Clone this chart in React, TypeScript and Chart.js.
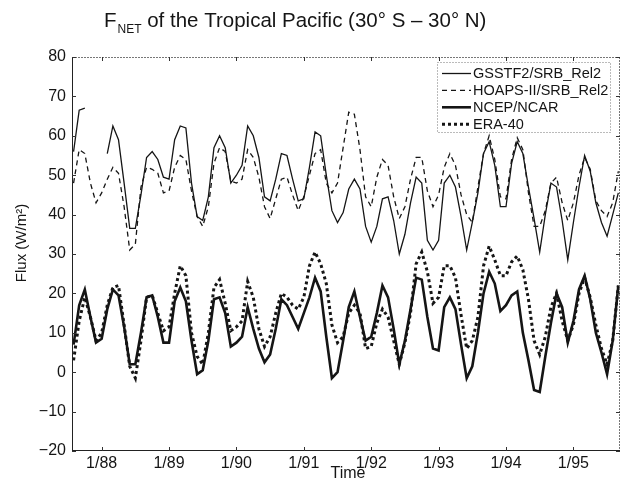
import { useEffect, useRef } from 'react';
import { Chart, registerables } from 'chart.js';

Chart.register(...registerables);

// Monthly series, starting August 1987 (month index 0)
const START_YEAR = 1987;
const START_MONTH = 8;

const gsstf2: (number | null)[] = [
  56, 66.5, 67, null, null, null, 55.5, 62.5, 59, 48,
  36.5, 36.5, 45, 54.5, 56, 54, 49.5, 49, 59, 62.5,
  62, 48, 39.5, 38.5, 44.5, 57, 60, 57, 48, 50,
  52.5, 62.5, 60, 54.5, 44.5, 43.5, 49, 55.5, 55, 49,
  43.5, 44, 52, 61, 60, 50, 41, 38, 40.5, 46.5,
  49, 46.5, 37, 33, 37, 44, 44.5, 38.5, 30, 35,
  43, 49.5, 48, 33.5, 31, 33.5, 48, 50, 47, 39.5,
  31, 38, 45.5, 55.5, 58.5, 52.5, 42, 42, 53, 58.5,
  55.5, 47, 39, 30.5, 40, 48, 47, 38.5, 28.5, 38,
  47, 55, 51, 43, 38, 34.5, 40, 45.5,
];

const hoaps: number[] = [
  48, 56.5, 55.5, 48, 43, 45.5, 49, 52, 50.5, 42,
  31, 32.5, 47, 52, 51.5, 50.5, 45.5, 46, 52, 55,
  54, 46, 39.5, 37, 42, 53, 57, 56, 48.5, 48,
  49, 56.5, 54.5, 49.5, 42, 39, 44, 49, 49.5, 45,
  41, 44.5, 50, 55.5, 56.5, 48, 45.5, 48, 57, 66,
  65.5, 56.5, 44.5, 42, 49.5, 54, 52.5, 44.5, 39, 42,
  49, 54.5, 54.5, 46, 42, 45, 52, 55.5, 52.5, 45,
  40, 38, 47, 55.5, 60, 54, 44.5, 44, 54, 59.5,
  56.5, 45.5, 37, 37, 41, 48, 49.5, 43, 38.5, 43,
  50, 54.5, 51.5, 43.5, 41, 39.5, 43, 51,
];

const ncep: number[] = [
  7, 17, 21, 14, 7.5, 8.5, 16, 21, 19.5, 11.5,
  2, 2, 10, 19, 19.5, 14, 7.5, 7.5, 18, 21.5,
  18, 8, -0.5, 0.5, 8, 18.5, 19, 15, 6.5, 7.5,
  9, 16.5, 11, 6, 2.5, 4.5, 11, 18.5, 17, 14,
  11, 15, 19, 24, 20.5, 9, -1.5, 0, 8, 16.5,
  20.5, 14, 8, 9, 15, 22, 19, 11, 2, 8,
  16, 24, 23.5, 14, 6, 5.5, 16.5, 19, 16, 7,
  -1.5, 1.5, 10, 20, 25.5, 22.5, 15.5, 17, 19.5, 20.5,
  10, 3, -4.5, -5, 4, 12.5, 20, 16.5, 7.5, 13,
  21, 24.5, 18.5, 10, 5, -0.5, 8, 22,
];

const era40: number[] = [
  3, 13, 19, 14, 8, 10, 17, 21.5, 22, 12,
  1.5, -1.5, 8, 19, 19.5, 15, 10.5, 11.5, 20, 27,
  24.5, 10, 4, 2, 10, 21.5, 23.5, 17.5, 10.5, 11.5,
  13, 23, 19, 11, 6.5, 9, 15, 20, 19, 17,
  16, 19, 27, 30.5, 27.5, 22.5, 12, 7.5, 9, 15,
  17, 15, 6, 6.5, 12.5, 16, 14, 8, 2, 7.5,
  15, 27.5, 30.5, 25.5, 17.5, 19, 27, 27, 24, 14.5,
  6, 8, 14, 27, 32, 28.5, 24.5, 24.5, 28, 29.5,
  26, 18.5, 8, 4.5, 9, 16.5, 20, 13, 8, 12,
  20, 24, 19, 12, 6, 2, 8, 22,
];

const tickYears = [1988, 1989, 1990, 1991, 1992, 1993, 1994, 1995];
const tickLabels = tickYears.map((y) => `1/${String(y).slice(2)}`);
const tickMonths = tickYears.map((y) => (y - START_YEAR) * 12 + 1 - START_MONTH);

const yTicks = [-20, -10, 0, 10, 20, 30, 40, 50, 60, 70, 80];

const seriesNames = ['GSSTF2/SRB_Rel2', 'HOAPS-II/SRB_Rel2', 'NCEP/NCAR', 'ERA-40'];

const FONT = '"Liberation Sans", Arial, Helvetica, sans-serif';
const INK = '#151515';

const toXY = (vals: (number | null)[]) => vals.map((v, i) => ({ x: i, y: v }));

const decorPlugin = {
  id: 'decor',
  beforeDraw(chart: any) {
    const { ctx, width, height } = chart;
    ctx.save();
    ctx.fillStyle = '#ffffff';
    ctx.fillRect(0, 0, width, height);
    ctx.restore();
  },
  afterDraw(chart: any) {
    const { ctx, chartArea: a, scales } = chart;
    const xs = scales.x;
    const ys = scales.y;
    ctx.save();

    // axes box
    ctx.lineWidth = 1;
    ctx.strokeStyle = '#777';
    ctx.setLineDash([2, 1]);
    ctx.beginPath();
    ctx.moveTo(a.left, a.top + 0.5);
    ctx.lineTo(a.right, a.top + 0.5);
    ctx.moveTo(a.right - 0.5, a.top);
    ctx.lineTo(a.right - 0.5, a.bottom);
    ctx.stroke();
    ctx.setLineDash([]);
    ctx.strokeStyle = '#222';
    ctx.beginPath();
    ctx.moveTo(a.left + 0.5, a.top);
    ctx.lineTo(a.left + 0.5, a.bottom);
    ctx.moveTo(a.left, a.bottom - 0.5);
    ctx.lineTo(a.right, a.bottom - 0.5);
    ctx.stroke();

    // inward tick marks
    ctx.strokeStyle = '#333';
    ctx.beginPath();
    tickMonths.forEach((m) => {
      const px = Math.round(xs.getPixelForValue(m)) + 0.5;
      ctx.moveTo(px, a.bottom);
      ctx.lineTo(px, a.bottom - 4);
      ctx.moveTo(px, a.top);
      ctx.lineTo(px, a.top + 4);
    });
    yTicks.forEach((v) => {
      const py = Math.round(ys.getPixelForValue(v)) + 0.5;
      ctx.moveTo(a.left, py);
      ctx.lineTo(a.left + 4, py);
      ctx.moveTo(a.right, py);
      ctx.lineTo(a.right - 4, py);
    });
    ctx.stroke();

    // title with subscript
    ctx.fillStyle = INK;
    ctx.textBaseline = 'alphabetic';
    ctx.textAlign = 'left';
    let tx = 104;
    ctx.font = `20.5px ${FONT}`;
    ctx.fillText('F', tx, 27);
    tx += ctx.measureText('F').width + 1;
    ctx.font = `12px ${FONT}`;
    ctx.fillText('NET', tx, 33);
    tx += ctx.measureText('NET').width;
    ctx.font = `20.5px ${FONT}`;
    ctx.fillText(' of the Tropical Pacific (30° S \u2013 30° N)', tx, 27);

    // axis titles
    ctx.font = `16px ${FONT}`;
    ctx.textAlign = 'center';
    ctx.textBaseline = 'middle';
    ctx.fillText('Time', 348, 474);
    ctx.save();
    ctx.translate(21.5, 243);
    ctx.rotate(-Math.PI / 2);
    ctx.font = `15px ${FONT}`;
    ctx.fillText('Flux (W/m\u00B2)', 0, 0);
    ctx.restore();

    // legend
    const lx = 437.5, ly = 62.5, lw = 173, lh = 70;
    ctx.fillStyle = '#fff';
    ctx.fillRect(lx, ly, lw, lh);
    ctx.strokeStyle = '#777';
    ctx.lineWidth = 1;
    ctx.setLineDash([1, 2]);
    ctx.strokeRect(lx, ly, lw, lh);
    ctx.font = `14.5px ${FONT}`;
    ctx.textAlign = 'left';
    ctx.textBaseline = 'middle';
    chart.data.datasets.forEach((ds: any, i: number) => {
      const rowY = 73.5 + i * 16.9;
      ctx.strokeStyle = ds.borderColor;
      ctx.lineWidth = ds.borderWidth;
      ctx.setLineDash(ds.borderDash || []);
      ctx.beginPath();
      ctx.moveTo(442, rowY);
      ctx.lineTo(471, rowY);
      ctx.stroke();
      ctx.setLineDash([]);
      ctx.fillStyle = INK;
      ctx.fillText(ds.label, 473, rowY + 0.5);
    });
    ctx.restore();
  },
};

export default function App() {
  const canvasRef = useRef<HTMLCanvasElement | null>(null);

  useEffect(() => {
    document.body.style.margin = '0';
    const canvas = canvasRef.current;
    if (!canvas) return;
    Chart.defaults.font.family = FONT;
    const chart = new Chart(canvas, {
      type: 'line',
      data: {
        datasets: [
          {
            label: seriesNames[0],
            data: toXY(gsstf2),
            borderColor: INK,
            borderWidth: 1.3,
            pointRadius: 0,
            spanGaps: false,
            tension: 0,
          },
          {
            label: seriesNames[1],
            data: toXY(hoaps),
            borderColor: INK,
            borderWidth: 1.3,
            borderDash: [5, 4],
            pointRadius: 0,
            tension: 0,
          },
          {
            label: seriesNames[2],
            data: toXY(ncep),
            borderColor: INK,
            borderWidth: 2.6,
            pointRadius: 0,
            tension: 0,
          },
          {
            label: seriesNames[3],
            data: toXY(era40),
            borderColor: INK,
            borderWidth: 3,
            borderDash: [3, 3],
            pointRadius: 0,
            tension: 0,
          },
        ],
      },
      options: {
        animation: false,
        responsive: false,
        devicePixelRatio: 1,
        layout: { padding: { top: 57, right: 2, left: 0, bottom: 0 } },
        plugins: {
          legend: { display: false },
          title: { display: false },
          tooltip: { enabled: false },
        },
        scales: {
          x: {
            type: 'linear',
            min: -0.28,
            max: 97.3,
            grid: { display: false, drawTicks: false },
            border: { display: false },
            afterBuildTicks: (scale: any) => {
              scale.ticks = tickMonths.map((v) => ({ value: v }));
            },
            afterFit: (scale: any) => {
              scale.height = 35;
            },
            ticks: {
              autoSkip: false,
              maxRotation: 0,
              padding: 3,
              color: INK,
              font: { size: 16, family: FONT },
              callback: (value: any) => {
                const i = tickMonths.indexOf(Number(value));
                return i >= 0 ? tickLabels[i] : '';
              },
            },
          },
          y: {
            min: -20,
            max: 80,
            grid: { display: false, drawTicks: false },
            border: { display: false },
            afterFit: (scale: any) => {
              scale.width = 72;
            },
            ticks: {
              stepSize: 10,
              padding: 6,
              color: INK,
              font: { size: 16, family: FONT },
              callback: (value: any) => {
                const v = Number(value);
                return v < 0 ? `\u2212${Math.abs(v)}` : String(v);
              },
            },
          },
        },
      },
      plugins: [decorPlugin],
    });
    return () => chart.destroy();
  }, []);

  return <canvas ref={canvasRef} width={622} height={486} style={{ display: 'block' }} />;
}
